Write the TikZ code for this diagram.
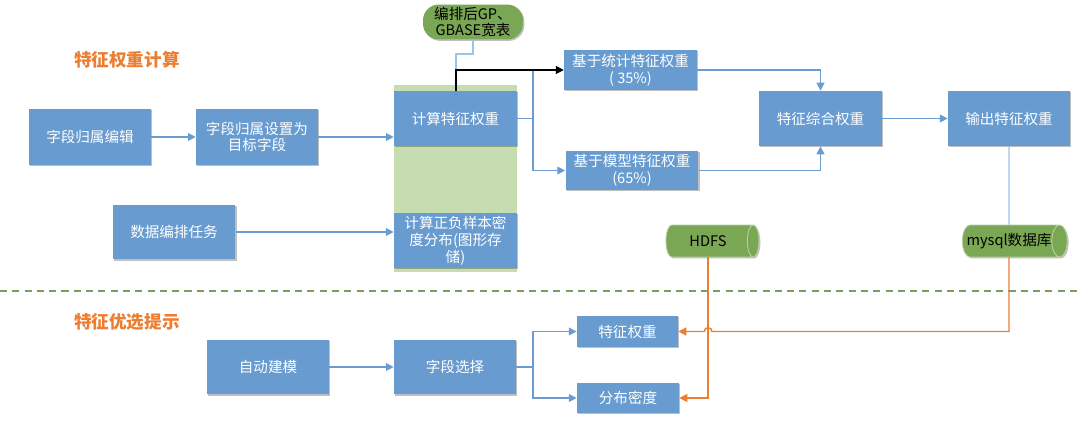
\documentclass[tikz,border=0pt]{standalone}
\usepackage{fontspec}
\setmainfont{Noto Sans CJK SC}
\usetikzlibrary{shapes, arrows.meta, shadows, calc, positioning}

\definecolor{boxblue}{HTML}{689BD0}
\definecolor{lineblue}{HTML}{6A9BD1}
\definecolor{paleblue}{HTML}{9DC3E6}
\definecolor{bandgreen}{HTML}{C5DDB0}
\definecolor{cylgreen}{HTML}{7AA753}
\definecolor{hotorange}{HTML}{ED7D31}
\definecolor{dashgreen}{HTML}{7B9F5F}

\begin{document}
\begin{tikzpicture}[x=0.02cm, y=-0.02cm, >={Triangle[length=4.5pt, width=4.5pt]},
        box/.style = {rectangle, fill=boxblue, text=white, align=center, inner sep=1pt,
            font=\fontsize{8.3}{9.6}\selectfont,
            drop shadow={shadow xshift=0.8pt, shadow yshift=-0.8pt, opacity=0.25, fill=black}},
        store/.style = {cylinder, shape aspect=0.8, fill=cylgreen, draw=cylgreen!55!white, line width=0.5pt,
            text=black, inner sep=1pt, font=\fontsize{8.3}{9.6}\selectfont,
            drop shadow={shadow xshift=0.8pt, shadow yshift=-0.8pt, opacity=0.25, fill=black}},
        title/.style = {text=hotorange, font=\fontsize{10}{12}\selectfont\bfseries},
        flow/.style = {draw=lineblue, line width=0.7pt},
        feed/.style = {draw=paleblue, line width=0.7pt},
        pull/.style = {draw=hotorange, line width=0.8pt}]
    \useasboundingbox (0,0) rectangle (1080,426);

    % section titles
    \node[title] (T1) at (127,60) {特征权重计算};
    \node[title] (T2) at (127,322) {特征优选提示};
    \draw[dashgreen, line width=0.7pt, dash pattern=on 4pt off 3pt] (0,291) -- (1080,291);

    % upper part
    \node[box, minimum width=2.44cm, minimum height=1.12cm] (F1) at (90,137) {字段归属编辑};
    \node[box, minimum width=2.44cm, minimum height=1.12cm] (F2) at (257,137) {字段归属设置为\\目标字段};
    \node[box, minimum width=2.46cm, minimum height=1.1cm] (TASK) at (174,232) {数据编排任务};
    \fill[bandgreen] (394,85) rectangle (517,272);
    \node[box, minimum width=2.46cm, minimum height=1.1cm] (CALC) at (455.5,118.5) {计算特征权重};
    \node[box, minimum width=2.46cm, minimum height=1.1cm] (DENS) at (455.5,240.5) {计算正负样本密\\度分布(图形存\\储)};
    \node[fill=cylgreen, rounded corners=9pt, minimum width=2cm, minimum height=0.7cm, align=center,
        inner sep=1pt, font=\fontsize{8.3}{9.6}\selectfont,
        drop shadow={shadow xshift=0.8pt, shadow yshift=-0.8pt, opacity=0.25, fill=black}] (SRC) at (473,22) {编排后GP、\\GBASE宽表};
    \node[box, minimum width=2.66cm, minimum height=0.8cm] (STAT) at (630.5,70) {基于统计特征权重\\( 35\%)};
    \node[box, minimum width=2.66cm, minimum height=0.78cm] (MODEL) at (632,170.5) {基于模型特征权重\\(65\%)};
    \node[box, minimum width=2.46cm, minimum height=1.1cm] (COMB) at (820.5,118.5) {特征综合权重};
    \node[box, minimum width=2.44cm, minimum height=1.1cm] (OUT) at (1009,118.5) {输出特征权重};
    \node[store, minimum width=0.64cm, minimum height=1.86cm] (HDFS) at (708,241) {HDFS};
    \node[store, minimum width=0.64cm, minimum height=1.86cm, inner xsep=0pt] (SQL) at (1009,241) {mysql数据库};

    \coordinate (S1) at (533,118.5);
    \coordinate (J1) at (456,54);
    \draw[flow, ->] (F1) -- (F2);
    \draw[flow, ->] (F2.east) -- (F2.east -| CALC.west);
    \draw[flow, ->] (TASK.east) -- (TASK.east -| DENS.west);
    \draw[feed] (SRC.south) |- (J1) -- (J1 |- STAT.west);
    \draw[flow] (CALC.east) -- (S1);
    \draw[flow, ->] (S1) |- (STAT.west);
    \draw[flow, ->] (S1) |- (MODEL.west);
    \draw[black, line width=0.7pt, ->] (J1 |- CALC.north) |- (STAT.west);
    \draw[flow, ->] (STAT.east) -| (COMB.north);
    \draw[flow, ->] (MODEL.east) -| (COMB.south);
    \draw[flow, ->] (COMB) -- (OUT);
    \draw[feed] (OUT.south) -- (SQL.north);

    % lower part
    \node[box, minimum width=2.44cm, minimum height=1.1cm] (AUTO) at (268,367) {自动建模};
    \node[box, minimum width=2.44cm, minimum height=1.1cm] (SEL) at (455,367) {字段选择};
    \node[box, minimum width=2.02cm, minimum height=0.62cm] (FW) at (627.5,331.5) {特征权重};
    \node[box, minimum width=2.04cm, minimum height=0.6cm] (FD) at (628,398) {分布密度};

    \coordinate (S2) at (533,367);
    \coordinate (H1) at (712,331.5);
    \draw[flow, ->] (AUTO) -- (SEL);
    \draw[flow] (SEL.east) -- (S2);
    \draw[flow, ->] (S2) |- (FW.west);
    \draw[flow, ->] (S2) |- (FD.west);
    \draw[pull, ->] (HDFS.south) |- (FD.east);
    \draw[pull, ->] (SQL.south) |- (H1) arc[start angle=0, end angle=180, radius=2.2pt] -- (FW.east);
\end{tikzpicture}
\end{document}
